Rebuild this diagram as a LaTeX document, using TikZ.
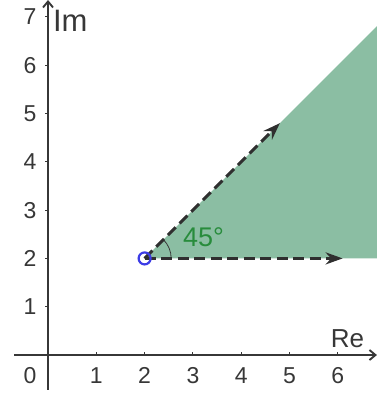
\documentclass[tikz,border=0pt]{standalone}
\usepackage{fontspec}
\setmainfont{Liberation Sans}
\usetikzlibrary{arrows.meta}
\definecolor{regiongreen}{RGB}{139,190,163}
\definecolor{anglegreen}{RGB}{40,140,60}
\definecolor{axisgray}{RGB}{55,55,55}
\definecolor{ptblue}{RGB}{60,60,230}
\tikzset{
  axisline/.style={draw=axisgray, line width=1.9pt, -{Straight Barb[length=6pt,width=10pt]}},
  dasharrow/.style={draw=axisgray!85!black, line width=3pt, dash pattern=on 11pt off 5.5pt, -{Stealth[length=17pt,width=12pt]}},
  ticklab/.style={font=\fontsize{23}{26}\selectfont, text=axisgray, inner sep=0pt},
  axlab/.style={font=\fontsize{26}{29}\selectfont, text=axisgray, inner sep=0pt},
  tickmark/.style={draw=axisgray, line width=1pt}
}
\begin{document}
\begin{tikzpicture}[x=48.3pt,y=48.3pt]
\useasboundingbox (-0.994,-0.807) rectangle (6.81,7.35);
% region
\coordinate (P) at (2,2);
\coordinate (TR) at (6.81,6.81);
\coordinate (BR) at (6.81,2);
\fill[regiongreen] (P) -- (TR) -- (BR) -- cycle;
% axes
\coordinate (xs) at (-0.7,0);
\coordinate (xe) at (6.81,0);
\coordinate (ys) at (0,-0.72);
\coordinate (ye) at (0,7.35);
\draw[axisline] (xs) -- (xe);
\draw[axisline] (ys) -- (ye);
\foreach \i in {1,...,6} {
  \draw[tickmark] (\i,0) -- (\i,0.06);
  \node[ticklab] (xl\i) at (\i,-0.42) {\i};
}
\foreach \i in {1,...,7} {
  \draw[tickmark] (0,\i) -- (-0.06,\i);
  \node[ticklab] (yl\i) at (-0.37,\i) {\i};
}
\node[ticklab] (zero) at (-0.37,-0.42) {0};
\node[axlab, font=\fontsize{31}{34}\selectfont, anchor=west] (im) at (0.1,6.92) {Im};
\node[axlab, anchor=base] (re) at (6.2,0.15) {Re};
% angle
\draw[axisgray, line width=0.8pt] (2.55,2) arc (0:45:0.55);
\node[font=\fontsize{27}{30}\selectfont, text=anglegreen, inner sep=0pt] (ang) at (3.22,2.44) {45°};
% dashed arrows
\coordinate (A1) at (4.8,4.8);
\coordinate (A2) at (6.1,2);
\draw[dasharrow] (P) -- (A1);
\draw[dasharrow] (P) -- (A2);
% point
\node[circle, draw=ptblue, line width=2.2pt, minimum size=12pt, inner sep=0pt] (pt) at (P) {};
\end{tikzpicture}
\end{document}
